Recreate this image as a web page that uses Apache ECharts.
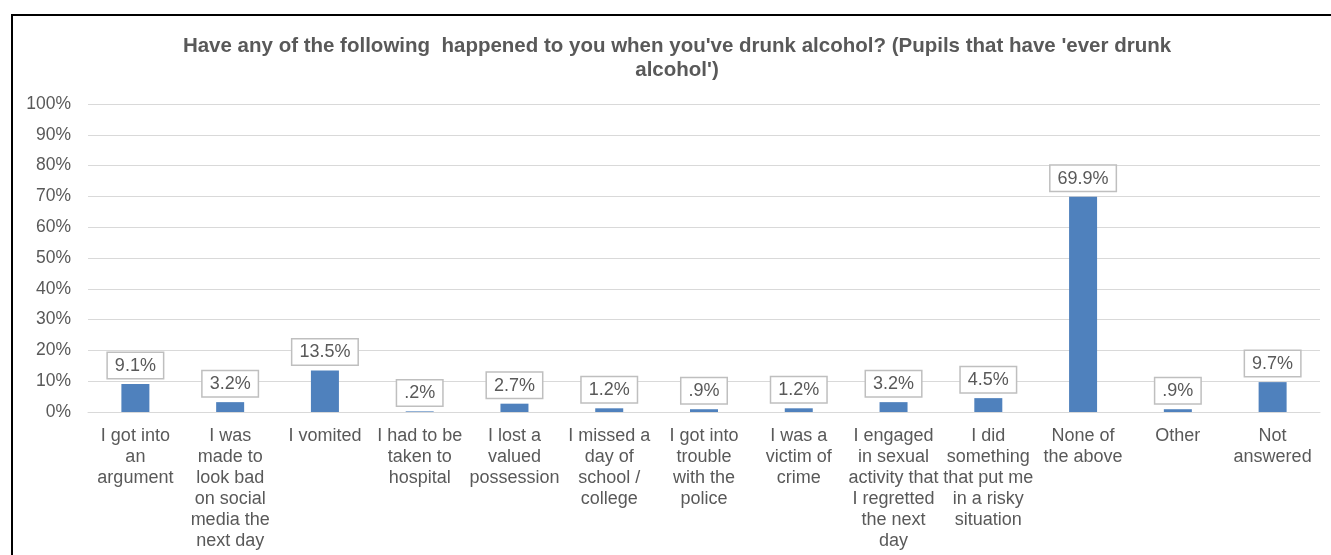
<!DOCTYPE html>
<html>
<head>
<meta charset="utf-8">
<script src="https://cdn.jsdelivr.net/npm/echarts@6/dist/echarts.min.js"></script>
<style>
html,body{margin:0;padding:0;background:#fff;}
#c{width:1331px;height:555px;}
</style>
</head>
<body>
<div id="c"></div>
<script>
var titleText = "Have any of the following  happened to you when you've drunk alcohol? (Pupils that have 'ever drunk\nalcohol')";
var categories = [
  "I got into\nan\nargument",
  "I was\nmade to\nlook bad\non social\nmedia the\nnext day",
  "I vomited",
  "I had to be\ntaken to\nhospital",
  "I lost a\nvalued\npossession",
  "I missed a\nday of\nschool /\ncollege",
  "I got into\ntrouble\nwith the\npolice",
  "I was a\nvictim of\ncrime",
  "I engaged\nin sexual\nactivity that\nI regretted\nthe next\nday",
  "I did\nsomething\nthat put me\nin a risky\nsituation",
  "None of\nthe above",
  "Other",
  "Not\nanswered"
];
var values = [9.1, 3.2, 13.5, 0.2, 2.7, 1.2, 0.9, 1.2, 3.2, 4.5, 69.9, 0.9, 9.7];
var yTicks = [0, 10, 20, 30, 40, 50, 60, 70, 80, 90, 100];

var chart = echarts.init(document.getElementById('c'), null, {renderer: 'canvas'});
var txt = '#595959';
var font = 'Liberation Sans, Arial, sans-serif';
chart.setOption({
  animation: false,
  textStyle: {fontFamily: font},
  graphic: [{
    type: 'rect', silent: true, z: 100,
    shape: {x: 12, y: 15, width: 1400, height: 700},
    style: {fill: 'none', stroke: '#000', lineWidth: 2}
  }],
  title: {
    text: titleText,
    left: 677, top: 34, textAlign: 'center', padding: 0,
    textStyle: {fontFamily: font, fontSize: 20.5, fontWeight: 'bold', color: txt, lineHeight: 24}
  },
  grid: {left: 88, right: 11, top: 104, bottom: 143, containLabel: false},
  xAxis: {
    type: 'category',
    data: categories,
    axisLine: {lineStyle: {color: '#d9d9d9', width: 1}},
    axisTick: {show: false},
    axisLabel: {interval: 0, color: txt, fontSize: 18, lineHeight: 21, margin: 14, fontFamily: font}
  },
  yAxis: {
    type: 'value', min: 0, max: 100, interval: 10,
    axisLine: {show: false}, axisTick: {show: false},
    splitLine: {lineStyle: {color: '#d9d9d9', width: 1}},
    axisLabel: {color: txt, fontSize: 17.5, margin: 17, fontFamily: font,
      formatter: function (v) { return v + '%'; }}
  },
  series: [{
    type: 'bar',
    data: values,
    barWidth: 28,
    itemStyle: {color: '#4f81bd'},
    label: {
      show: true, position: 'top', distance: 6,
      color: txt, fontSize: 18, fontFamily: font,
      backgroundColor: '#fff', borderColor: '#bfbfbf', borderWidth: 1.5,
      padding: [4, 7, 3, 7],
      formatter: function (p) { return p.value.toFixed(1).replace(/^0/, '') + '%'; }
    }
  }]
});
</script>
</body>
</html>
